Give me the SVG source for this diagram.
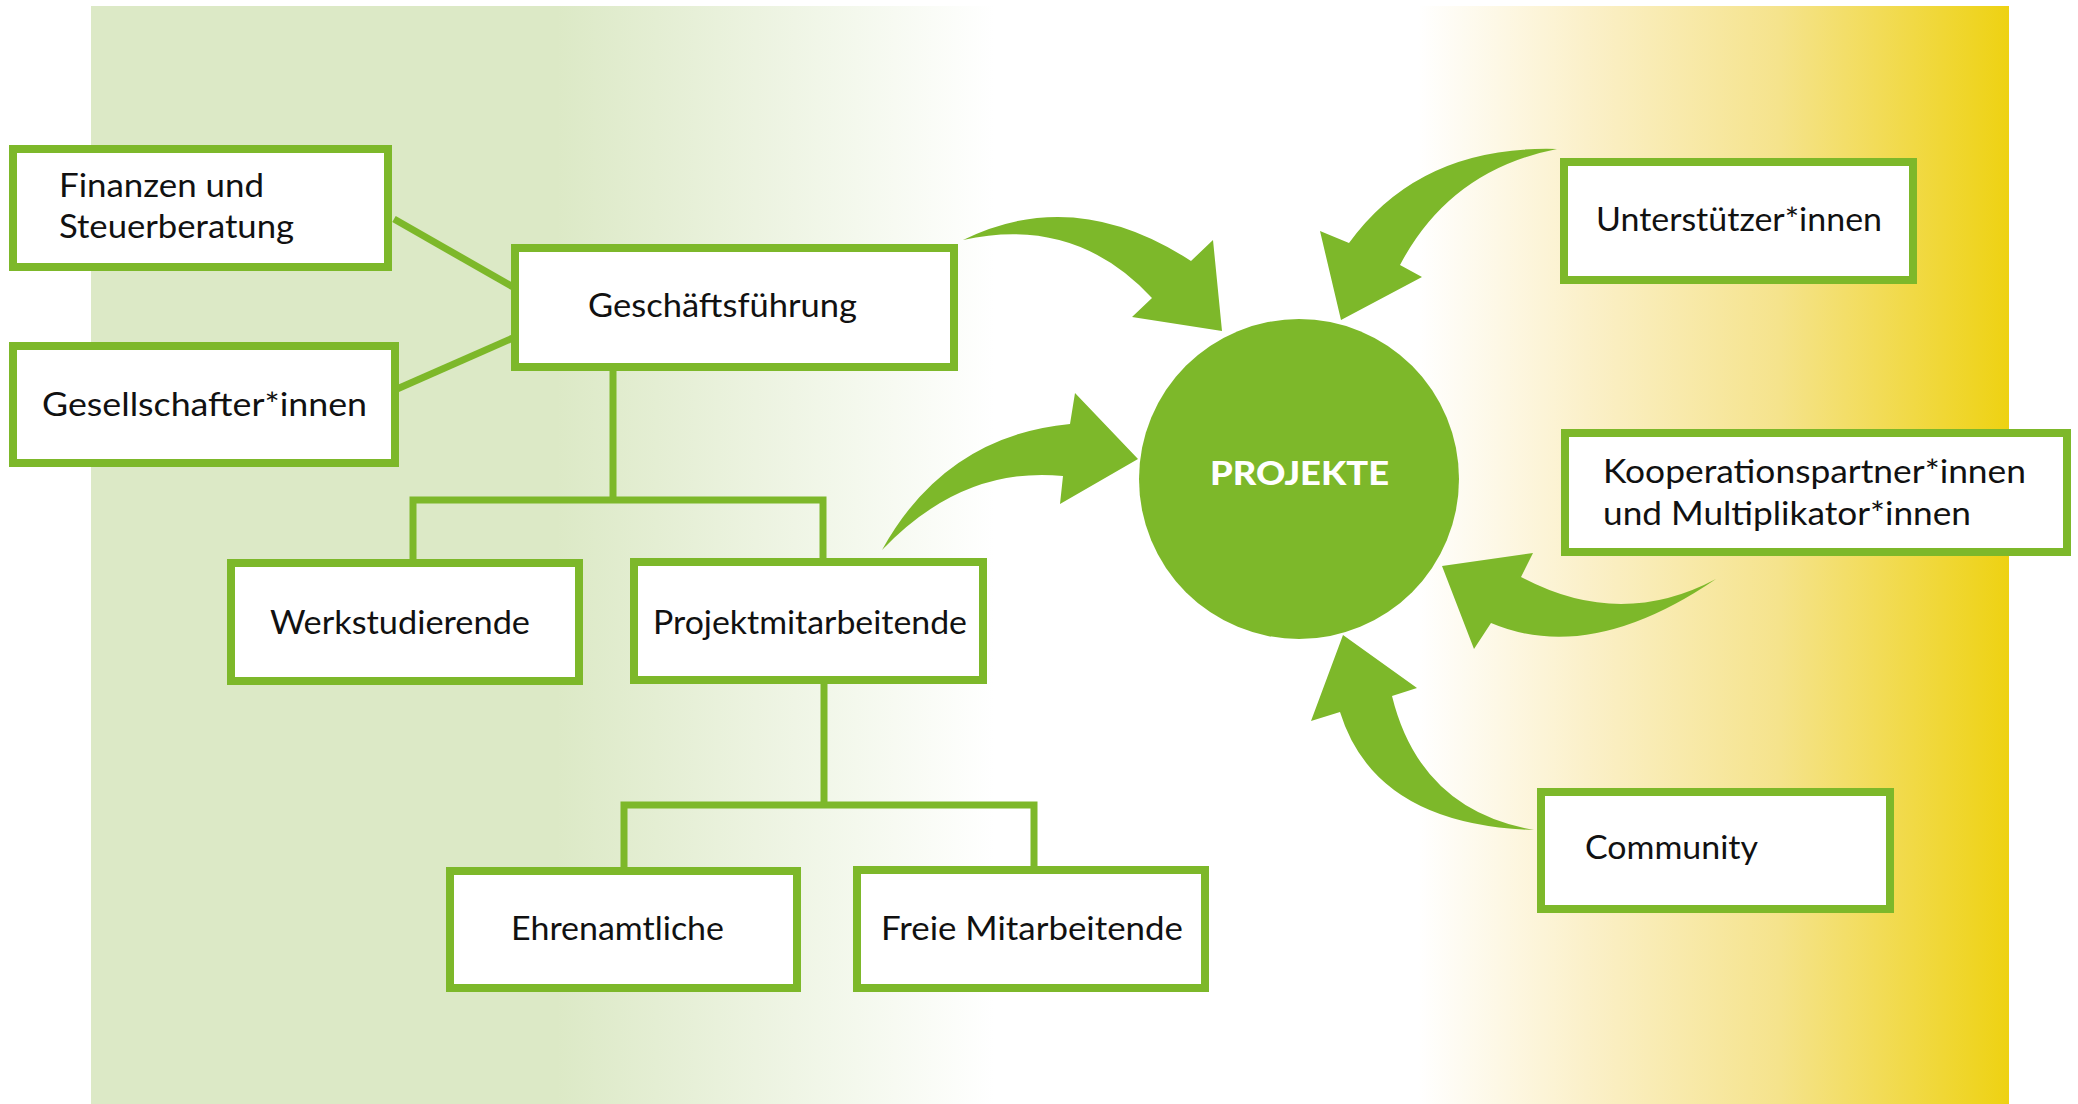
<svg xmlns="http://www.w3.org/2000/svg" width="2078" height="1104" viewBox="0 0 2078 1104">
<defs>
<linearGradient id="bg" x1="91" y1="0" x2="2009" y2="0" gradientUnits="userSpaceOnUse">
<stop offset="0" stop-color="#dce9c6"/>
<stop offset="0.243" stop-color="#dce9c6"/>
<stop offset="0.471" stop-color="#ffffff"/>
<stop offset="0.692" stop-color="#ffffff"/>
<stop offset="0.78" stop-color="#fbf0c9"/>
<stop offset="0.88" stop-color="#f5e38c"/>
<stop offset="1" stop-color="#eed212"/>
</linearGradient>
<style>
.box{fill:#ffffff;stroke:#7db82a;stroke-width:8}
.lbl{font-family:Lato,"Liberation Sans",sans-serif;font-size:32px;fill:#111111}
.ln{stroke:#7db82a;stroke-width:7;fill:none}
.arr{fill:#7db82a;stroke:none}
</style>
</defs>
<rect x="0" y="0" width="2078" height="1104" fill="#ffffff"/>
<rect x="91" y="6" width="1918" height="1098" fill="url(#bg)"/>

<g id="connectors">
<line class="ln" x1="394" y1="219" x2="513" y2="287"/>
<line class="ln" x1="397" y1="389" x2="515" y2="337"/>
<polyline class="ln" points="613,371 613,500"/>
<polyline class="ln" points="413,563 413,500 823,500 823,563"/>
<polyline class="ln" points="824,684 824,805"/>
<polyline class="ln" points="624,871 624,805 1034,805 1034,870"/>
<path class="arr" d="M963,240 Q1075,185 1191,261 L1213,240 L1222,331 L1132,317 L1152,298 Q1075,215 963,240 Z"/>
<path class="arr" d="M882,550 Q945,436 1070,424 L1075,393 L1138,459 L1060,504 L1063,476 Q962,466 882,550 Z"/>
<path class="arr" d="M1557,149 Q1420,145 1349,243 L1320,231 L1341,320 L1422,277 L1400,265 Q1450,170 1557,149 Z"/>
<path class="arr" d="M1716,579 Q1620,630 1521,577 L1533,553 L1442,566 L1474,649 L1491,623 Q1590,665 1716,579 Z"/>
<path class="arr" d="M1534,830 Q1375,825 1340,712 L1311,721 L1343,635 L1417,688 L1392,696 Q1420,810 1534,830 Z"/>
</g>

<g id="finanzen">
<rect class="box" x="13" y="149" width="375" height="118"/>
<text class="lbl" x="59" y="197" textLength="205" lengthAdjust="spacingAndGlyphs">Finanzen und</text>
<text class="lbl" x="59" y="238" textLength="235" lengthAdjust="spacingAndGlyphs">Steuerberatung</text>
</g>
<g id="gesellschafter">
<rect class="box" x="13" y="346" width="382" height="117"/>
<text class="lbl" x="42" y="416" textLength="325" lengthAdjust="spacingAndGlyphs">Gesellschafter*innen</text>
</g>
<g id="geschaeftsfuehrung">
<rect class="box" x="515" y="248" width="439" height="119"/>
<text class="lbl" x="588" y="317" textLength="269" lengthAdjust="spacingAndGlyphs">Geschäftsführung</text>
</g>
<g id="werkstudierende">
<rect class="box" x="231" y="563" width="348" height="118"/>
<text class="lbl" x="270" y="634" textLength="260" lengthAdjust="spacingAndGlyphs">Werkstudierende</text>
</g>
<g id="projektmitarbeitende">
<rect class="box" x="634" y="562" width="349" height="118"/>
<text class="lbl" x="653" y="634" textLength="314" lengthAdjust="spacingAndGlyphs">Projektmitarbeitende</text>
</g>
<g id="ehrenamtliche">
<rect class="box" x="450" y="871" width="347" height="117"/>
<text class="lbl" x="511" y="940" textLength="213" lengthAdjust="spacingAndGlyphs">Ehrenamtliche</text>
</g>
<g id="freie-mitarbeitende">
<rect class="box" x="857" y="870" width="348" height="118"/>
<text class="lbl" x="881" y="940" textLength="302" lengthAdjust="spacingAndGlyphs">Freie Mitarbeitende</text>
</g>
<g id="projekte">
<circle cx="1299" cy="479" r="160" fill="#7db82a"/>
<text x="1299.5" y="485" text-anchor="middle" font-family="Lato,'Liberation Sans',sans-serif" font-weight="900" font-size="33" fill="#ffffff" textLength="179" lengthAdjust="spacingAndGlyphs">PROJEKTE</text>
</g>
<g id="unterstuetzer">
<rect class="box" x="1564" y="162" width="349" height="118"/>
<text class="lbl" x="1596" y="231" textLength="286" lengthAdjust="spacingAndGlyphs">Unterstützer*innen</text>
</g>
<g id="kooperation">
<rect class="box" x="1565" y="433" width="502" height="119"/>
<text class="lbl" x="1603" y="483" textLength="423" lengthAdjust="spacingAndGlyphs">Kooperationspartner*innen</text>
<text class="lbl" x="1603" y="525" textLength="368" lengthAdjust="spacingAndGlyphs">und Multiplikator*innen</text>
</g>
<g id="community">
<rect class="box" x="1541" y="792" width="349" height="117"/>
<text class="lbl" x="1585" y="859" textLength="173" lengthAdjust="spacingAndGlyphs">Community</text>
</g>
</svg>
